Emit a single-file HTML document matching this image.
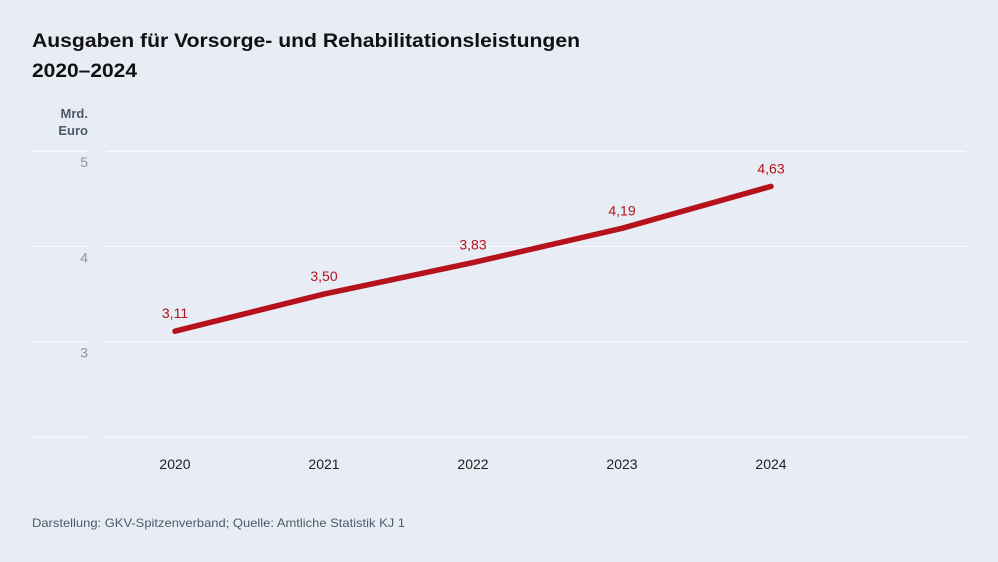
<!DOCTYPE html>
<html><head><meta charset="utf-8"><style>
body{margin:0;width:998px;height:562px;background:#e8ecf4;font-family:"Liberation Sans",sans-serif;overflow:hidden}
svg{position:absolute;left:0;top:0}
</style></head><body>
<svg width="998" height="562">
<text x="32" y="47" font-size="19" font-weight="bold" fill="#111" textLength="548" lengthAdjust="spacingAndGlyphs">Ausgaben für Vorsorge- und Rehabilitationsleistungen</text>
<text x="32" y="77" font-size="19" font-weight="bold" fill="#111" textLength="105" lengthAdjust="spacingAndGlyphs">2020–2024</text>
<text x="88" y="118" font-size="13" font-weight="bold" fill="#4a5a6a" text-anchor="end">Mrd.</text>
<text x="88" y="135" font-size="13" font-weight="bold" fill="#4a5a6a" text-anchor="end">Euro</text>
<g id="grid"></g>
<g id="xt"></g>
<polyline id="line" fill="none" stroke="#b5121b" stroke-width="5.5" stroke-linecap="round" stroke-linejoin="round"/>
<g id="labels"></g>
<text x="32" y="527" font-size="12" fill="#4a5a6a" textLength="373" lengthAdjust="spacingAndGlyphs">Darstellung: GKV-Spitzenverband; Quelle: Amtliche Statistik KJ 1</text>
</svg>
<script>
const categories=["2020","2021","2022","2023","2024"];
const values=[3.11,3.50,3.83,4.19,4.63];
const valueLabels=["3,11","3,50","3,83","4,19","4,63"];
const yTicks=[2,3,4,5];
const yTickLabels=["","3","4","5"];
const NS="http://www.w3.org/2000/svg";
const y=v=>437-(v-2)*95.3;
const x=i=>175+i*149;
function mk(t,a,p){const e=document.createElementNS(NS,t);for(const k in a)e.setAttribute(k,a[k]);p.appendChild(e);return e;}
const g=document.getElementById('grid');
yTicks.forEach((t,i)=>{
 const l1=mk('line',{x1:32,x2:88,y1:y(t),y2:y(t),stroke:'#fff','stroke-width':1},g);
 
 
 const l=mk('line',{x1:106,x2:966,y1:y(t),y2:y(t),stroke:'#fff','stroke-width':1},g);
 
 
 if(yTickLabels[i]){const tx=mk('text',{x:88,y:y(t)+16,'font-size':14,fill:'#8a96a6','text-anchor':'end'},g);tx.textContent=yTickLabels[i];
 
 }
});
const xt=document.getElementById('xt');
categories.forEach((c,i)=>{const t=mk('text',{x:x(i),y:469,'font-size':14,fill:'#222','text-anchor':'middle'},xt);t.textContent=c;
 
 });
document.getElementById('line').setAttribute('points',values.map((v,i)=>x(i)+','+y(v)).join(' '));
const lb=document.getElementById('labels');
values.forEach((v,i)=>{const t=mk('text',{x:x(i),y:y(v)-13,'font-size':14,fill:'#b5121b','text-anchor':'middle'},lb);t.textContent=valueLabels[i];
 
 });
</script>
</body></html>
